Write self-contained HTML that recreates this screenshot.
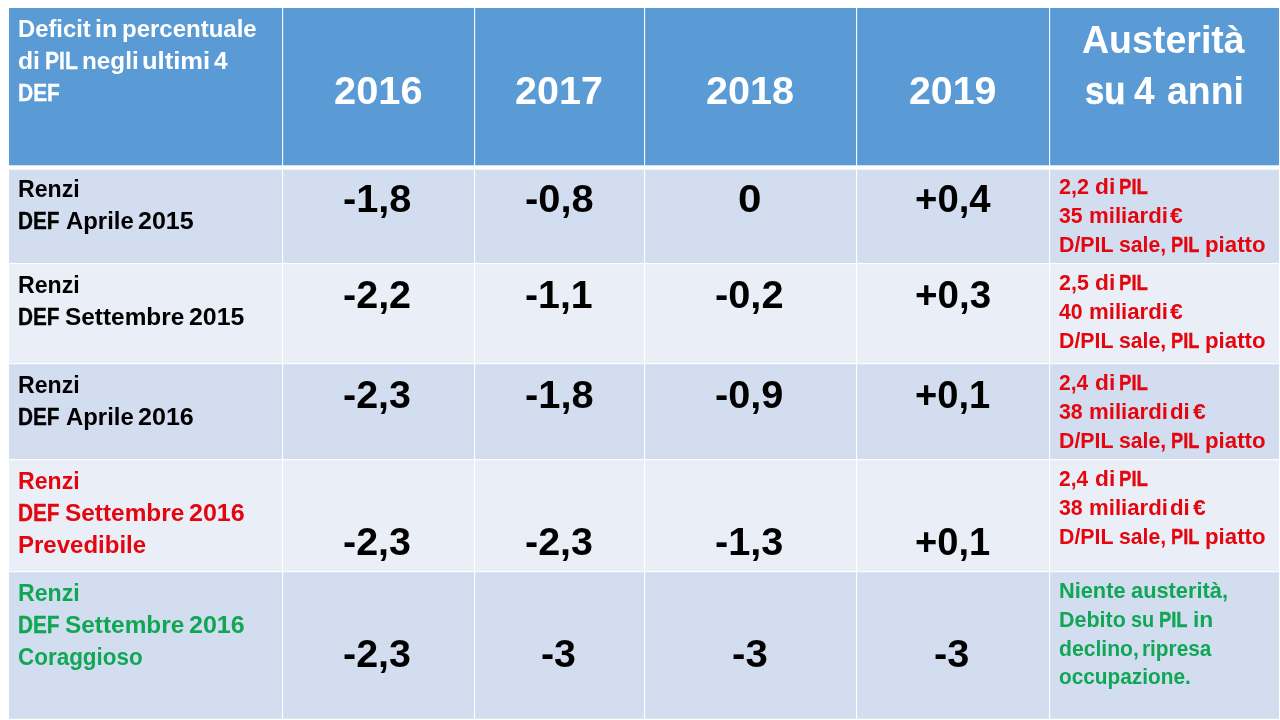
<!DOCTYPE html>
<html lang="it">
<head>
<meta charset="utf-8">
<title>Deficit in percentuale di PIL negli ultimi 4 DEF</title>
<style>
html,body{margin:0;padding:0;background:#fff;}
body{width:1280px;height:720px;overflow:hidden;position:relative;font-family:"Liberation Sans",Arial,sans-serif;font-weight:bold;}
.tbl{position:absolute;left:0;top:0;width:1280px;height:720px;}
.bg{position:absolute;}
.ln{position:absolute;left:0;top:0;width:0;height:0;font-size:0;}
.t{position:absolute;white-space:pre;line-height:1;transform-origin:0 0;margin:0;padding:0;}

</style>
</head>
<body>
<div class="tbl">
<div class="bg" style="left:9px;top:8px;width:1270px;height:157px;background:#5b9bd5"></div>
<div class="bg" style="left:9px;top:165px;width:1270px;height:1px;background:#cee1f2"></div>
<div class="bg" style="left:9px;top:169px;width:1270px;height:1px;background:#f2f5fa"></div>
<div class="bg" style="left:9px;top:170px;width:1270px;height:93px;background:#d2deef"></div>
<div class="bg" style="left:9px;top:263px;width:1270px;height:100px;background:#eaeff7"></div>
<div class="bg" style="left:9px;top:363px;width:1270px;height:96px;background:#d2deef"></div>
<div class="bg" style="left:9px;top:459px;width:1270px;height:112px;background:#eaeff7"></div>
<div class="bg" style="left:9px;top:571px;width:1270px;height:147px;background:#d2deef"></div>
<div class="bg" style="left:9px;top:718px;width:1270px;height:1px;background:#dde6f3"></div>
<div class="bg" style="left:9px;top:263px;width:1270px;height:1px;background:#fff"></div>
<div class="bg" style="left:9px;top:264px;width:1270px;height:1px;background:rgba(255,255,255,0.2)"></div>
<div class="bg" style="left:9px;top:363px;width:1270px;height:1px;background:#fff"></div>
<div class="bg" style="left:9px;top:364px;width:1270px;height:1px;background:rgba(255,255,255,0.2)"></div>
<div class="bg" style="left:9px;top:459px;width:1270px;height:1px;background:#fff"></div>
<div class="bg" style="left:9px;top:460px;width:1270px;height:1px;background:rgba(255,255,255,0.2)"></div>
<div class="bg" style="left:9px;top:571px;width:1270px;height:1px;background:#fff"></div>
<div class="bg" style="left:9px;top:572px;width:1270px;height:1px;background:rgba(255,255,255,0.2)"></div>
<div class="bg" style="left:282px;top:8px;width:1px;height:711px;background:rgba(255,255,255,0.96)"></div>
<div class="bg" style="left:283px;top:8px;width:1px;height:711px;background:rgba(255,255,255,0.12)"></div>
<div class="bg" style="left:474px;top:8px;width:1px;height:711px;background:rgba(255,255,255,0.96)"></div>
<div class="bg" style="left:475px;top:8px;width:1px;height:711px;background:rgba(255,255,255,0.12)"></div>
<div class="bg" style="left:644px;top:8px;width:1px;height:711px;background:rgba(255,255,255,0.96)"></div>
<div class="bg" style="left:645px;top:8px;width:1px;height:711px;background:rgba(255,255,255,0.12)"></div>
<div class="bg" style="left:856px;top:8px;width:1px;height:711px;background:rgba(255,255,255,0.96)"></div>
<div class="bg" style="left:857px;top:8px;width:1px;height:711px;background:rgba(255,255,255,0.12)"></div>
<div class="bg" style="left:1049px;top:8px;width:1px;height:711px;background:rgba(255,255,255,0.96)"></div>
<div class="bg" style="left:1050px;top:8px;width:1px;height:711px;background:rgba(255,255,255,0.12)"></div>
<div class="bg" style="left:1279px;top:8px;width:1px;height:711px;background:rgba(255,255,255,0.55)"></div>
</div>
<div class="ln"><span class="t" style="left:17.80px;top:18.00px;font-size:23.6px;color:#fff;transform:scaleX(1.0083)">Deficit</span> <span class="t" style="left:95.25px;top:18.00px;font-size:23.6px;color:#fff;transform:scaleX(1.0641)">in</span> <span class="t" style="left:122.38px;top:18.00px;font-size:23.6px;color:#fff;transform:scaleX(1.0172)">percentuale</span></div>
<div class="ln"><span class="t" style="left:17.65px;top:50.00px;font-size:23.6px;color:#fff;transform:scaleX(1.0484)">di</span> <span class="t" style="left:44.98px;top:50.00px;font-size:23.6px;color:#fff;-webkit-text-stroke:0.31px #fff;transform:scaleX(0.8935)">PIL</span> <span class="t" style="left:81.77px;top:50.00px;font-size:23.6px;color:#fff;transform:scaleX(1.0286)">negli</span> <span class="t" style="left:142.00px;top:50.00px;font-size:23.6px;color:#fff;transform:scaleX(1.0836)">ultimi</span> <span class="t" style="left:213.62px;top:50.00px;font-size:23.6px;color:#fff;transform:scaleX(1.0382)">4</span></div>
<div class="ln"><span class="t" style="left:17.99px;top:82.00px;font-size:23.6px;color:#fff;-webkit-text-stroke:0.33px #fff;transform:scaleX(0.8881)">DEF</span></div>
<div class="ln"><span class="t" style="left:334.35px;top:71.00px;font-size:39.0px;color:#fff;transform:scaleX(1.0205)">2016</span></div>
<div class="ln"><span class="t" style="left:515.11px;top:71.00px;font-size:39.0px;color:#fff;transform:scaleX(1.0127)">2017</span></div>
<div class="ln"><span class="t" style="left:706.11px;top:71.00px;font-size:39.0px;color:#fff;transform:scaleX(1.0161)">2018</span></div>
<div class="ln"><span class="t" style="left:908.62px;top:71.00px;font-size:39.0px;color:#fff;transform:scaleX(1.0080)">2019</span></div>
<div class="ln"><span class="t" style="left:1081.89px;top:20.00px;font-size:39.0px;color:#fff;transform:scaleX(0.9628)">Austerità</span></div>
<div class="ln"><span class="t" style="left:1084.98px;top:71.00px;font-size:39.0px;color:#fff;-webkit-text-stroke:0.54px #fff;transform:scaleX(0.8883)">su</span> <span class="t" style="left:1134.33px;top:71.00px;font-size:39.0px;color:#fff;transform:scaleX(0.9485)">4</span> <span class="t" style="left:1167.14px;top:71.00px;font-size:39.0px;color:#fff;transform:scaleX(0.9605)">anni</span></div>
<div class="ln"><span class="t" style="left:343.43px;top:179.00px;font-size:39.0px;color:#000;transform:scaleX(1.0188)">-1,8</span></div>
<div class="ln"><span class="t" style="left:524.68px;top:179.00px;font-size:39.0px;color:#000;transform:scaleX(1.0211)">-0,8</span></div>
<div class="ln"><span class="t" style="left:738.31px;top:179.00px;font-size:39.0px;color:#000;transform:scaleX(1.0815)">0</span></div>
<div class="ln"><span class="t" style="left:914.63px;top:179.00px;font-size:39.0px;color:#000;transform:scaleX(0.9825)">+0,4</span></div>
<div class="ln"><span class="t" style="left:343.44px;top:275.00px;font-size:39.0px;color:#000;transform:scaleX(1.0132)">-2,2</span></div>
<div class="ln"><span class="t" style="left:524.70px;top:275.00px;font-size:39.0px;color:#000;transform:scaleX(1.0077)">-1,1</span></div>
<div class="ln"><span class="t" style="left:715.18px;top:275.00px;font-size:39.0px;color:#000;transform:scaleX(1.0198)">-0,2</span></div>
<div class="ln"><span class="t" style="left:914.63px;top:275.00px;font-size:39.0px;color:#000;transform:scaleX(0.9884)">+0,3</span></div>
<div class="ln"><span class="t" style="left:343.44px;top:375.00px;font-size:39.0px;color:#000;transform:scaleX(1.0117)">-2,3</span></div>
<div class="ln"><span class="t" style="left:524.68px;top:375.00px;font-size:39.0px;color:#000;transform:scaleX(1.0211)">-1,8</span></div>
<div class="ln"><span class="t" style="left:715.18px;top:375.00px;font-size:39.0px;color:#000;transform:scaleX(1.0173)">-0,9</span></div>
<div class="ln"><span class="t" style="left:914.64px;top:375.00px;font-size:39.0px;color:#000;transform:scaleX(0.9766)">+0,1</span></div>
<div class="ln"><span class="t" style="left:343.44px;top:522.00px;font-size:39.0px;color:#000;transform:scaleX(1.0117)">-2,3</span></div>
<div class="ln"><span class="t" style="left:524.69px;top:522.00px;font-size:39.0px;color:#000;transform:scaleX(1.0117)">-2,3</span></div>
<div class="ln"><span class="t" style="left:715.18px;top:522.00px;font-size:39.0px;color:#000;transform:scaleX(1.0183)">-1,3</span></div>
<div class="ln"><span class="t" style="left:914.64px;top:522.00px;font-size:39.0px;color:#000;transform:scaleX(0.9766)">+0,1</span></div>
<div class="ln"><span class="t" style="left:343.44px;top:634.00px;font-size:39.0px;color:#000;transform:scaleX(1.0117)">-2,3</span></div>
<div class="ln"><span class="t" style="left:540.95px;top:634.00px;font-size:39.0px;color:#000;transform:scaleX(1.0086)">-3</span></div>
<div class="ln"><span class="t" style="left:732.16px;top:634.00px;font-size:39.0px;color:#000;transform:scaleX(1.0310)">-3</span></div>
<div class="ln"><span class="t" style="left:934.18px;top:634.00px;font-size:39.0px;color:#000;transform:scaleX(1.0198)">-3</span></div>
<div class="ln"><span class="t" style="left:17.85px;top:178.00px;font-size:23.6px;color:#000;transform:scaleX(0.9798)">Renzi</span></div>
<div class="ln"><span class="t" style="left:18.10px;top:210.00px;font-size:23.6px;color:#000;-webkit-text-stroke:0.35px #000;transform:scaleX(0.8804)">DEF</span> <span class="t" style="left:65.82px;top:210.00px;font-size:23.6px;color:#000;transform:scaleX(1.0130)">Aprile</span> <span class="t" style="left:138.04px;top:210.00px;font-size:23.6px;color:#000;transform:scaleX(1.0614)">2015</span></div>
<div class="ln"><span class="t" style="left:17.85px;top:274.00px;font-size:23.6px;color:#000;transform:scaleX(0.9798)">Renzi</span></div>
<div class="ln"><span class="t" style="left:18.10px;top:306.00px;font-size:23.6px;color:#000;-webkit-text-stroke:0.35px #000;transform:scaleX(0.8804)">DEF</span> <span class="t" style="left:65.45px;top:306.00px;font-size:23.6px;color:#000;transform:scaleX(1.0337)">Settembre</span> <span class="t" style="left:189.25px;top:306.00px;font-size:23.6px;color:#000;transform:scaleX(1.0545)">2015</span></div>
<div class="ln"><span class="t" style="left:17.85px;top:374.00px;font-size:23.6px;color:#000;transform:scaleX(0.9798)">Renzi</span></div>
<div class="ln"><span class="t" style="left:18.10px;top:406.00px;font-size:23.6px;color:#000;-webkit-text-stroke:0.35px #000;transform:scaleX(0.8804)">DEF</span> <span class="t" style="left:65.82px;top:406.00px;font-size:23.6px;color:#000;transform:scaleX(1.0130)">Aprile</span> <span class="t" style="left:138.04px;top:406.00px;font-size:23.6px;color:#000;transform:scaleX(1.0637)">2016</span></div>
<div class="ln"><span class="t" style="left:17.85px;top:470.00px;font-size:23.6px;color:#e3060f;transform:scaleX(0.9798)">Renzi</span></div>
<div class="ln"><span class="t" style="left:18.10px;top:502.00px;font-size:23.6px;color:#e3060f;-webkit-text-stroke:0.35px #e3060f;transform:scaleX(0.8804)">DEF</span> <span class="t" style="left:65.45px;top:502.00px;font-size:23.6px;color:#e3060f;transform:scaleX(1.0337)">Settembre</span> <span class="t" style="left:189.24px;top:502.00px;font-size:23.6px;color:#e3060f;transform:scaleX(1.0616)">2016</span></div>
<div class="ln"><span class="t" style="left:17.79px;top:534.00px;font-size:23.6px;color:#e3060f;transform:scaleX(1.0177)">Prevedibile</span></div>
<div class="ln"><span class="t" style="left:17.85px;top:582.00px;font-size:23.6px;color:#10a655;transform:scaleX(0.9798)">Renzi</span></div>
<div class="ln"><span class="t" style="left:18.10px;top:614.00px;font-size:23.6px;color:#10a655;-webkit-text-stroke:0.35px #10a655;transform:scaleX(0.8804)">DEF</span> <span class="t" style="left:65.45px;top:614.00px;font-size:23.6px;color:#10a655;transform:scaleX(1.0337)">Settembre</span> <span class="t" style="left:189.24px;top:614.00px;font-size:23.6px;color:#10a655;transform:scaleX(1.0616)">2016</span></div>
<div class="ln"><span class="t" style="left:18.00px;top:646.00px;font-size:23.6px;color:#10a655;transform:scaleX(0.9513)">Coraggioso</span></div>
<div class="ln"><span class="t" style="left:1059.00px;top:176.00px;font-size:21.2px;color:#e3060f;transform:scaleX(1.0182)">2,2</span> <span class="t" style="left:1094.59px;top:176.00px;font-size:21.2px;color:#e3060f;transform:scaleX(1.0728)">di</span> <span class="t" style="left:1119.33px;top:176.00px;font-size:21.2px;color:#e3060f;-webkit-text-stroke:0.32px #e3060f;transform:scaleX(0.8778)">PIL</span></div>
<div class="ln"><span class="t" style="left:1059.00px;top:205.00px;font-size:21.2px;color:#e3060f;transform:scaleX(1.0020)">35</span> <span class="t" style="left:1088.50px;top:205.00px;font-size:21.2px;color:#e3060f;transform:scaleX(1.0481)">miliardi</span> <span class="t" style="left:1169.73px;top:205.00px;font-size:21.2px;color:#e3060f;transform:scaleX(1.0871)">€</span></div>
<div class="ln"><span class="t" style="left:1058.86px;top:234.00px;font-size:21.2px;color:#e3060f;transform:scaleX(1.0069)">D/PIL</span> <span class="t" style="left:1118.76px;top:234.00px;font-size:21.2px;color:#e3060f;transform:scaleX(1.0014)">sale,</span> <span class="t" style="left:1170.66px;top:234.00px;font-size:21.2px;color:#e3060f;-webkit-text-stroke:0.37px #e3060f;transform:scaleX(0.8624)">PIL</span> <span class="t" style="left:1204.80px;top:234.00px;font-size:21.2px;color:#e3060f;transform:scaleX(1.0498)">piatto</span></div>
<div class="ln"><span class="t" style="left:1059.01px;top:272.00px;font-size:21.2px;color:#e3060f;transform:scaleX(1.0122)">2,5</span> <span class="t" style="left:1094.59px;top:272.00px;font-size:21.2px;color:#e3060f;transform:scaleX(1.0728)">di</span> <span class="t" style="left:1119.33px;top:272.00px;font-size:21.2px;color:#e3060f;-webkit-text-stroke:0.32px #e3060f;transform:scaleX(0.8778)">PIL</span></div>
<div class="ln"><span class="t" style="left:1059.05px;top:301.00px;font-size:21.2px;color:#e3060f;transform:scaleX(1.0030)">40</span> <span class="t" style="left:1088.50px;top:301.00px;font-size:21.2px;color:#e3060f;transform:scaleX(1.0481)">miliardi</span> <span class="t" style="left:1169.73px;top:301.00px;font-size:21.2px;color:#e3060f;transform:scaleX(1.0871)">€</span></div>
<div class="ln"><span class="t" style="left:1058.86px;top:330.00px;font-size:21.2px;color:#e3060f;transform:scaleX(1.0069)">D/PIL</span> <span class="t" style="left:1118.76px;top:330.00px;font-size:21.2px;color:#e3060f;transform:scaleX(1.0014)">sale,</span> <span class="t" style="left:1170.66px;top:330.00px;font-size:21.2px;color:#e3060f;-webkit-text-stroke:0.37px #e3060f;transform:scaleX(0.8624)">PIL</span> <span class="t" style="left:1204.80px;top:330.00px;font-size:21.2px;color:#e3060f;transform:scaleX(1.0498)">piatto</span></div>
<div class="ln"><span class="t" style="left:1059.02px;top:372.00px;font-size:21.2px;color:#e3060f;transform:scaleX(0.9912)">2,4</span> <span class="t" style="left:1094.59px;top:372.00px;font-size:21.2px;color:#e3060f;transform:scaleX(1.0728)">di</span> <span class="t" style="left:1119.33px;top:372.00px;font-size:21.2px;color:#e3060f;-webkit-text-stroke:0.32px #e3060f;transform:scaleX(0.8778)">PIL</span></div>
<div class="ln"><span class="t" style="left:1059.00px;top:401.00px;font-size:21.2px;color:#e3060f;transform:scaleX(1.0067)">38</span> <span class="t" style="left:1088.50px;top:401.00px;font-size:21.2px;color:#e3060f;transform:scaleX(1.0481)">miliardi</span> <span class="t" style="left:1169.60px;top:401.00px;font-size:21.2px;color:#e3060f;transform:scaleX(1.0510)">di</span> <span class="t" style="left:1193.47px;top:401.00px;font-size:21.2px;color:#e3060f;transform:scaleX(1.0816)">€</span></div>
<div class="ln"><span class="t" style="left:1058.86px;top:430.00px;font-size:21.2px;color:#e3060f;transform:scaleX(1.0069)">D/PIL</span> <span class="t" style="left:1118.76px;top:430.00px;font-size:21.2px;color:#e3060f;transform:scaleX(1.0014)">sale,</span> <span class="t" style="left:1170.66px;top:430.00px;font-size:21.2px;color:#e3060f;-webkit-text-stroke:0.37px #e3060f;transform:scaleX(0.8624)">PIL</span> <span class="t" style="left:1204.80px;top:430.00px;font-size:21.2px;color:#e3060f;transform:scaleX(1.0498)">piatto</span></div>
<div class="ln"><span class="t" style="left:1059.02px;top:468.00px;font-size:21.2px;color:#e3060f;transform:scaleX(0.9912)">2,4</span> <span class="t" style="left:1094.59px;top:468.00px;font-size:21.2px;color:#e3060f;transform:scaleX(1.0728)">di</span> <span class="t" style="left:1119.33px;top:468.00px;font-size:21.2px;color:#e3060f;-webkit-text-stroke:0.32px #e3060f;transform:scaleX(0.8778)">PIL</span></div>
<div class="ln"><span class="t" style="left:1059.00px;top:497.00px;font-size:21.2px;color:#e3060f;transform:scaleX(1.0067)">38</span> <span class="t" style="left:1088.50px;top:497.00px;font-size:21.2px;color:#e3060f;transform:scaleX(1.0481)">miliardi</span> <span class="t" style="left:1169.60px;top:497.00px;font-size:21.2px;color:#e3060f;transform:scaleX(1.0510)">di</span> <span class="t" style="left:1193.47px;top:497.00px;font-size:21.2px;color:#e3060f;transform:scaleX(1.0816)">€</span></div>
<div class="ln"><span class="t" style="left:1058.86px;top:526.00px;font-size:21.2px;color:#e3060f;transform:scaleX(1.0069)">D/PIL</span> <span class="t" style="left:1118.76px;top:526.00px;font-size:21.2px;color:#e3060f;transform:scaleX(1.0014)">sale,</span> <span class="t" style="left:1170.66px;top:526.00px;font-size:21.2px;color:#e3060f;-webkit-text-stroke:0.37px #e3060f;transform:scaleX(0.8624)">PIL</span> <span class="t" style="left:1204.80px;top:526.00px;font-size:21.2px;color:#e3060f;transform:scaleX(1.0498)">piatto</span></div>
<div class="ln"><span class="t" style="left:1059.13px;top:580.00px;font-size:21.2px;color:#10a655;transform:scaleX(1.0274)">Niente</span> <span class="t" style="left:1130.91px;top:580.00px;font-size:21.2px;color:#10a655;transform:scaleX(1.0292)">austerità,</span></div>
<div class="ln"><span class="t" style="left:1059.15px;top:609.00px;font-size:21.2px;color:#10a655;transform:scaleX(1.0130)">Debito</span> <span class="t" style="left:1130.72px;top:609.00px;font-size:21.2px;color:#10a655;transform:scaleX(0.9411)">su</span> <span class="t" style="left:1159.25px;top:609.00px;font-size:21.2px;color:#10a655;-webkit-text-stroke:0.36px #10a655;transform:scaleX(0.8678)">PIL</span> <span class="t" style="left:1193.00px;top:609.00px;font-size:21.2px;color:#10a655;transform:scaleX(1.0765)">in</span></div>
<div class="ln"><span class="t" style="left:1058.80px;top:638.00px;font-size:21.2px;color:#10a655;transform:scaleX(0.9981)">declino,</span> <span class="t" style="left:1142.19px;top:638.00px;font-size:21.2px;color:#10a655;transform:scaleX(0.9813)">ripresa</span></div>
<div class="ln"><span class="t" style="left:1058.92px;top:666.00px;font-size:21.2px;color:#10a655;transform:scaleX(0.9821)">occupazione.</span></div>
</body>
</html>
